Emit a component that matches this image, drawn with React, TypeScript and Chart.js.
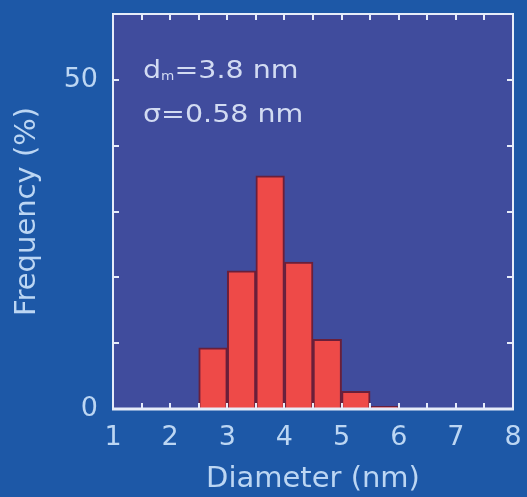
import React, { useEffect, useRef } from "react";
import { Chart, registerables } from "chart.js";

Chart.register(...registerables);

// Histogram bins (centres, nm) and frequencies (%)
const binCenters = [2.75, 3.25, 3.75, 4.25, 4.75, 5.25, 5.75];
const frequencies = [9.3, 21.0, 35.4, 22.3, 10.6, 2.7, 0.4];
const xTickValues = [1, 2, 3, 4, 5, 6, 7, 8];
const xMinorStep = 0.5;
const yLabeledTicks = [0, 50];
const yStep = 10;
const annotationMean = "3.8 nm";
const annotationSigma = "0.58 nm";

const OUTER_BG = "#1d58a7";
const PLOT_BG = "#404c9d";
const TEXT = "#bcd6f3";
const FRAME = "#e6ecf9";
const FONT = "'DejaVu Sans', Verdana, sans-serif";

const framePlugin = {
  id: "framePlugin",
  beforeDraw(chart: any) {
    const { ctx, chartArea, width, height } = chart;
    ctx.save();
    ctx.fillStyle = OUTER_BG;
    ctx.fillRect(0, 0, width, height);
    ctx.fillStyle = PLOT_BG;
    ctx.fillRect(chartArea.left, chartArea.top, chartArea.right - chartArea.left, chartArea.bottom - chartArea.top);
    ctx.restore();
  },
  afterDatasetsDraw(chart: any) {
    const { ctx, chartArea } = chart;
    const xs = chart.scales.x;
    const ys = chart.scales.y;
    const { left, right, top, bottom } = chartArea;
    ctx.save();
    ctx.strokeStyle = FRAME;
    ctx.lineWidth = 2;
    const tl = 6;
    ctx.beginPath();
    for (let v = xs.min + xMinorStep; v < xs.max - 1e-9; v += xMinorStep) {
      const px = Math.round(xs.getPixelForValue(v));
      ctx.moveTo(px, bottom);
      ctx.lineTo(px, bottom - tl);
      ctx.moveTo(px, top);
      ctx.lineTo(px, top + tl);
    }
    for (let v = ys.min + yStep; v < ys.max - 1e-9; v += yStep) {
      const py = Math.round(ys.getPixelForValue(v));
      ctx.moveTo(left, py);
      ctx.lineTo(left + tl, py);
      ctx.moveTo(right, py);
      ctx.lineTo(right - tl, py);
    }
    ctx.stroke();
    // frame
    ctx.lineWidth = 2;
    ctx.strokeRect(left, top, right - left, bottom - top);
    ctx.lineWidth = 3;
    ctx.beginPath();
    ctx.moveTo(left - 1, bottom);
    ctx.lineTo(right + 1, bottom);
    ctx.stroke();

    // annotation
    ctx.fillStyle = "#d2dbf2";
    ctx.textBaseline = "alphabetic";
    ctx.textAlign = "left";
    const x0 = left + 30;
    const y1 = top + 64;
    const y2 = top + 108;
    ctx.translate(x0, 0);
    ctx.scale(1.14, 1);
    ctx.font = `25px ${FONT}`;
    ctx.fillText("d", 0, y1);
    const dw = ctx.measureText("d").width;
    ctx.font = `12px ${FONT}`;
    ctx.fillText("m", dw, y1 + 2);
    const mw = ctx.measureText("m").width;
    ctx.font = `25px ${FONT}`;
    ctx.fillText("=" + annotationMean, dw + mw, y1);
    ctx.fillText("σ=" + annotationSigma, 0, y2);
    ctx.restore();
  },
};

export default function App() {
  const canvasRef = useRef<HTMLCanvasElement | null>(null);

  useEffect(() => {
    if (!canvasRef.current) return;
    const chart = new Chart(canvasRef.current, {
      type: "bar",
      data: {
        datasets: [
          {
            data: binCenters.map((x, i) => ({ x, y: frequencies[i] })),
            backgroundColor: "#ee4a48",
            borderColor: "#6a1f3a",
            borderWidth: 2,
            barPercentage: 1,
            categoryPercentage: 1,
          },
        ],
      },
      options: {
        responsive: false,
        animation: false,
        layout: { padding: { top: 14, right: 14, left: 0, bottom: 0 } },
        plugins: { legend: { display: false }, tooltip: { enabled: false } },
        scales: {
          x: {
            type: "linear",
            min: 1,
            max: 8,
            offset: false,
            grid: { display: false, drawTicks: false },
            border: { display: false },
            ticks: {
              stepSize: 1,
              autoSkip: false,
              maxRotation: 0,
              color: TEXT,
              padding: 13,
              font: { family: FONT, size: 27 },
              callback: (v: any) => (xTickValues.includes(Number(v)) ? String(v) : ""),
            },
            title: {
              display: true,
              text: "Diameter (nm)",
              color: TEXT,
              font: { family: FONT, size: 29 },
              padding: { top: 0, bottom: 0 },
            },
            afterFit: (s: any) => {
              s.height = 88;
              s.paddingLeft = 0;
              s.paddingRight = 0;
            },
          },
          y: {
            min: 0,
            max: 60,
            grid: { display: false, drawTicks: false },
            border: { display: false },
            ticks: {
              stepSize: yStep,
              autoSkip: false,
              color: TEXT,
              padding: 15,
              font: { family: FONT, size: 27 },
              callback: (v: any) => (yLabeledTicks.includes(Number(v)) ? String(v) : ""),
            },
            title: {
              display: true,
              text: "Frequency (%)",
              color: TEXT,
              font: { family: FONT, size: 29 },
              padding: { top: 10, bottom: 0 },
            },
            afterFit: (s: any) => {
              s.width = 113;
              s.paddingTop = 0;
              s.paddingBottom = 0;
            },
          },
        },
      },
      plugins: [framePlugin],
    });
    return () => chart.destroy();
  }, []);

  return (
    <div style={{ position: "absolute", left: 0, top: 0, width: 527, height: 497 }}>
      <canvas ref={canvasRef} width={527} height={497} style={{ display: "block" }} />
    </div>
  );
}
